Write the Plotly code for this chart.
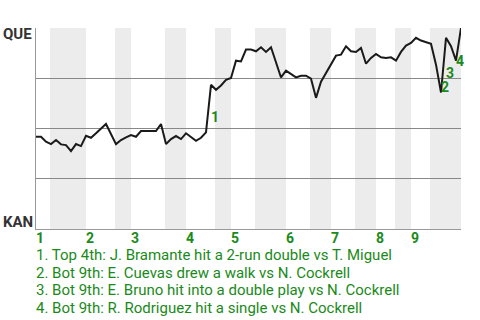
import plotly.graph_objects as go

# play index and QUE win probability (1 = QUE wins, 0 = KAN wins)
play = [0,1,2,3,4,5,6,7,8,9,10,11,12,13,14,
        16,17,18,19,20,21,
        24,25,26,27,28,29,30,31,32,33,34,35,36,37,38,39,40,41,42,43,44,45,46,47,
        49,50,51,52,53,54,55,56,57,
        60,61,62,63,64,65,66,67,68,69,70,71,72,73,74,75,76,77,78,79,80,81,82,83,84,85]
prob = [0.459,0.459,0.434,0.4225,0.4425,0.421,0.4175,0.3875,0.4225,0.4125,0.464,0.454,0.476,0.501,0.5225,
        0.4225,0.4425,0.456,0.4675,0.459,0.4875,
        0.4875,0.5225,0.4225,0.4475,0.4625,0.4475,0.476,0.459,0.439,0.454,0.481,0.7175,0.6925,0.714,0.7425,0.751,0.8375,0.834,0.8925,0.8925,0.884,0.904,0.881,0.904,
        0.754,0.7875,0.7725,0.754,0.7625,0.7625,0.7475,0.6525,0.7325,
        0.8625,0.8675,0.909,0.884,0.881,0.901,0.8225,0.851,0.871,0.854,0.851,0.854,0.8375,0.881,0.9125,0.926,0.951,0.9375,0.929,0.921,0.8175,0.679,0.951,0.909,0.8375,1.0]

# inning structure (play index positions)
inning_labels = ["1","2","3","4","5","6","7","8","9"]
top_start = [0,10,19,30,39,50,59,68,75]
bot_start = [2.8,15.8,25.8,35.8,43.8,54.8,63.8,71.8,78.8]
bot_end = [10,19,30,39,50,59,68,75,85]

# key events
event_nums = ["1","2","3","4"]
event_play = [35,81,82,84]
event_text = [
    "1. Top 4th: J. Bramante hit a 2-run double vs T. Miguel",
    "2. Bot 9th: E. Cuevas drew a walk vs N. Cockrell",
    "3. Bot 9th: E. Bruno hit into a double play vs N. Cockrell",
    "4. Bot 9th: R. Rodriguez hit a single vs N. Cockrell",
]
team_top = "QUE"
team_bottom = "KAN"

GREEN = "#1a8a1a"
FONT = "Roboto"

fig = go.Figure()
fig.add_trace(go.Scatter(x=play, y=prob, mode="lines",
                         line=dict(color="#1a1a1a", width=2),
                         hoverinfo="skip", showlegend=False))

shapes = []
for s, e in zip(bot_start, bot_end):
    shapes.append(dict(type="rect", xref="x", yref="paper", x0=s, x1=e, y0=0, y1=1,
                       fillcolor="#ececec", line=dict(width=0), layer="below"))

annotations = []
for lab, x in zip(inning_labels, top_start):
    annotations.append(dict(x=x, y=0, xref="x", yref="paper", text=lab, showarrow=False,
                            xanchor="left", yanchor="top", xshift=-2, yshift=1,
                            font=dict(family=FONT, size=14, color=GREEN, weight="bold")))

pidx = {p: i for i, p in enumerate(play)}
for num, ep in zip(event_nums, event_play):
    i = pidx[ep]
    ymid = (prob[i] + prob[i - 1]) / 2
    annotations.append(dict(x=ep, y=ymid, xref="x", yref="y", text=num, showarrow=False,
                            xanchor="left", yanchor="middle", xshift=-2, yshift=-8,
                            font=dict(family=FONT, size=14, color=GREEN, weight="bold")))

for k, line in enumerate(event_text):
    annotations.append(dict(x=0, y=0, xref="paper", yref="paper", text=line,
                            showarrow=False, align="left", xanchor="left", yanchor="middle",
                            xshift=-2, yshift=-(26.2 + 17.5 * k),
                            font=dict(family=FONT, size=15, color=GREEN)))

annotations.append(dict(x=0, y=1, xref="paper", yref="paper", text=team_top, showarrow=False,
                        xanchor="left", yanchor="middle", xshift=-35, yshift=-6,
                        font=dict(family=FONT, size=15, color="#333333", weight="bold")))
annotations.append(dict(x=0, y=0, xref="paper", yref="paper", text=team_bottom, showarrow=False,
                        xanchor="left", yanchor="middle", xshift=-35, yshift=7,
                        font=dict(family=FONT, size=15, color="#333333", weight="bold")))

fig.update_layout(
    width=480, height=320,
    margin=dict(l=36, r=19, t=28, b=91),
    paper_bgcolor="white", plot_bgcolor="rgba(0,0,0,0)",
    shapes=shapes, annotations=annotations, showlegend=False,
    font=dict(family=FONT),
)
fig.update_xaxes(range=[0, 85], showgrid=False, zeroline=False, showticklabels=False,
                 ticks="", showline=True, linecolor="#999999", linewidth=1, mirror=False)
fig.update_yaxes(range=[0, 1], tickvals=[0.25, 0.5, 0.75, 1.0], showticklabels=False,
                 ticks="", showgrid=True, gridcolor="#888888", gridwidth=1, zeroline=False,
                 showline=True, linecolor="#999999", linewidth=1)

fig.write_html("out.html", config={"displayModeBar": False})
